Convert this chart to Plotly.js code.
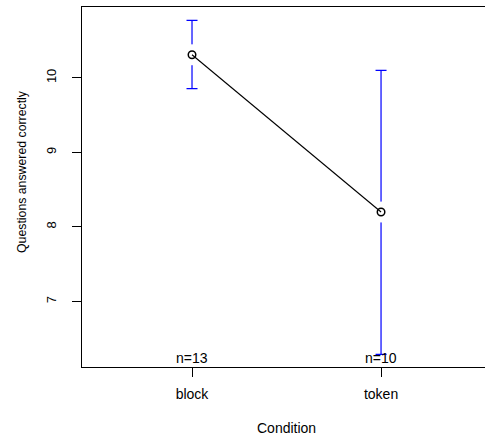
<!DOCTYPE html>
<html>
<head>
<meta charset="utf-8">
<script src="https://cdn.plot.ly/plotly-3.0.1.min.js"></script>
<style>html,body{margin:0;padding:0;background:#fff;}#plot{width:485px;height:437px;}</style>
</head>
<body>
<div id="plot"></div>
<script>
const conditions = ['block', 'token'];
const means = [10.31, 8.20];
const upper = [10.77, 10.10];
const lower = [9.856, 6.29];
const counts = [13, 10];
const yTicks = [7, 8, 9, 10];

const xIdx = conditions.map((c, i) => i + 1);
const F = 'Liberation Sans, Arial, Helvetica, sans-serif';

const errTrace = {
  x: xIdx, y: means, type: 'scatter', mode: 'markers',
  marker: {size: 1, color: 'rgba(0,0,0,0)'},
  error_y: {
    type: 'data', symmetric: false,
    array: upper.map((u, i) => u - means[i]),
    arrayminus: lower.map((l, i) => means[i] - l),
    color: '#0000FF', thickness: 1.2, width: 5.5
  },
  hoverinfo: 'skip', showlegend: false
};
const maskTrace = {
  x: xIdx, y: means, type: 'scatter', mode: 'markers',
  marker: {size: 21, color: '#ffffff', line: {width: 0}},
  hoverinfo: 'skip', showlegend: false
};
const meanTrace = {
  x: xIdx, y: means, type: 'scatter', mode: 'lines+markers',
  line: {color: '#000000', width: 1.1},
  marker: {symbol: 'circle-open', size: 7.5, color: '#000000', line: {width: 1.5, color: '#000000'}},
  showlegend: false
};

const annotations = conditions.map((c, i) => ({
  x: xIdx[i], y: 6.121, xref: 'x', yref: 'y',
  text: 'n=' + counts[i], showarrow: false,
  xanchor: 'center', yanchor: 'bottom', yshift: -1,
  font: {family: F, size: 14, color: '#000'}
}));
annotations.push({
  x: 286, y: 428, xref: 'paper', yref: 'paper', text: 'Condition', showarrow: false,
  font: {family: F, size: 14, color: '#000'}
});
annotations.push({
  x: 22, y: 172, xref: 'paper', yref: 'paper', text: 'Questions answered correctly', showarrow: false,
  textangle: -90, font: {family: F, size: 12.3, color: '#000'}
});

const L = 82, T = 7, B = 70, W = 485, H = 437;
const pw = W - L, ph = H - T - B;
annotations.forEach(a => {
  if (a.xref === 'paper') {
    a.x = (a.x - L) / pw;
    a.y = (H - B - a.y) / ph;
    a.xanchor = 'center'; a.yanchor = 'middle';
  }
});

const layout = {
  width: W, height: H,
  margin: {l: L, r: 0, t: T, b: B, pad: 0},
  paper_bgcolor: '#fff', plot_bgcolor: '#fff',
  xaxis: {
    range: [0.418, 2.55], tickmode: 'array', tickvals: xIdx, ticktext: conditions,
    showgrid: false, zeroline: false, showline: true, mirror: true, linecolor: '#000', linewidth: 1,
    ticks: 'outside', ticklen: 9, tickcolor: '#000', tickwidth: 1, ticklabelstandoff: 5,
    tickfont: {family: F, size: 14, color: '#000'}
  },
  yaxis: {
    range: [6.121, 10.95], tickmode: 'array', tickvals: yTicks, ticktext: yTicks.map(String),
    showgrid: false, zeroline: false, showline: true, linecolor: '#000', linewidth: 1,
    ticks: 'outside', ticklen: 9, tickcolor: '#000', tickwidth: 1, tickangle: -90, ticklabelstandoff: 11,
    tickfont: {family: F, size: 13, color: '#000'}
  },
  annotations: annotations,
  showlegend: false
};

Plotly.newPlot('plot', [errTrace, maskTrace, meanTrace], layout, {staticPlot: true, displayModeBar: false});
</script>
</body>
</html>
